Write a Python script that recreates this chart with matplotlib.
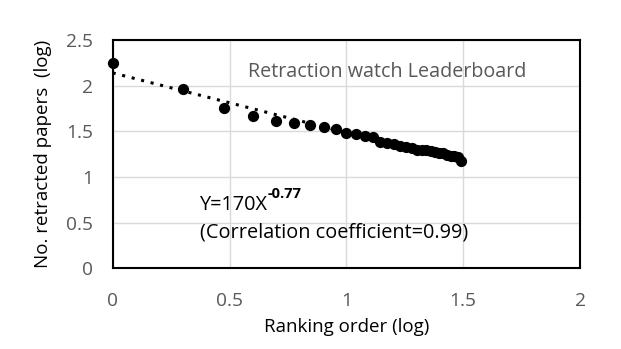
import matplotlib
matplotlib.use("Agg")
import matplotlib.pyplot as plt

# Data: log10(rank), log10(number of retracted papers)
rank_log = [0.0, 0.301, 0.477, 0.602, 0.699, 0.778, 0.845, 0.903, 0.954, 1.0,
            1.041, 1.079, 1.114, 1.146, 1.176, 1.204, 1.230, 1.255, 1.279, 1.301,
            1.322, 1.342, 1.362, 1.380, 1.398, 1.415, 1.431, 1.447, 1.462, 1.477,
            1.491]
papers_log = [2.245, 1.96, 1.752, 1.668, 1.617, 1.595, 1.57, 1.544, 1.529, 1.485,
              1.474, 1.449, 1.435, 1.38, 1.37, 1.36, 1.34, 1.33, 1.32, 1.30,
              1.30, 1.29, 1.28, 1.27, 1.26, 1.26, 1.24, 1.23, 1.23, 1.22,
              1.18]
trend_intercept = 2.14
trend_slope = -0.655

x_ticks = [0, 0.5, 1, 1.5, 2]
x_tick_labels = ["0", "0.5", "1", "1.5", "2"]
y_ticks = [0, 0.5, 1, 1.5, 2, 2.5]
y_tick_labels = ["0", "0.5", "1", "1.5", "2", "2.5"]

plt.rcParams['font.family'] = ['Open Sans', 'DejaVu Sans']

W, H = 621, 349
fig = plt.figure(figsize=(W / 100, H / 100), dpi=100)
left, right, top, bottom = 112.7, 580, 40, 268.3
ax = fig.add_axes([left / W, 1 - bottom / H, (right - left) / W, (bottom - top) / H])

ax.set_xlim(0, 2)
ax.set_ylim(0, 2.5)
ax.set_xticks(x_ticks)
ax.set_xticklabels(x_tick_labels)
ax.set_yticks(y_ticks)
ax.set_yticklabels(y_tick_labels)
ax.grid(True, color="#d9d9d9", linewidth=1.0)
ax.set_axisbelow(True)
ax.tick_params(length=0, labelsize=13.8, labelcolor="#595959")
ax.tick_params(axis="x", pad=17)
ax.tick_params(axis="y", pad=14)
for s in ax.spines.values():
    s.set_color("black")
    s.set_linewidth(1.5)

# trend line
x0, x1 = rank_log[0], rank_log[-1]
ax.plot([x0, x1], [trend_intercept + trend_slope * x0, trend_intercept + trend_slope * x1],
        linestyle=(0, (1, 2.2)), color="black", linewidth=2.2, zorder=2)
ax.scatter(rank_log, papers_log, s=50, color="black", zorder=3, clip_on=False)

ax.set_xlabel("Ranking order (log)", fontsize=13.5, color="black", labelpad=6)
ax.set_ylabel("No. retracted papers  (log)", fontsize=13.5, color="black", labelpad=10)

ax.text(0.289, 0.86, "Retraction watch Leaderboard", transform=ax.transAxes,
        fontsize=14.2, color="#595959", va="center", ha="left")

t1 = ax.text(0.187, 0.255, "Y=170X", transform=ax.transAxes, fontsize=14.3,
             color="black", va="baseline", ha="left")
ax.annotate("-0.77", xy=(1.0, 1.0), xycoords=t1, xytext=(0, -4),
            textcoords="offset points", fontsize=10.5, fontweight="bold",
            color="black", va="bottom", ha="left")
ax.text(0.187, 0.135, "(Correlation coefficient=0.99)", transform=ax.transAxes,
        fontsize=14.3, color="black", va="baseline", ha="left")

fig.savefig("out.png", dpi=100)
